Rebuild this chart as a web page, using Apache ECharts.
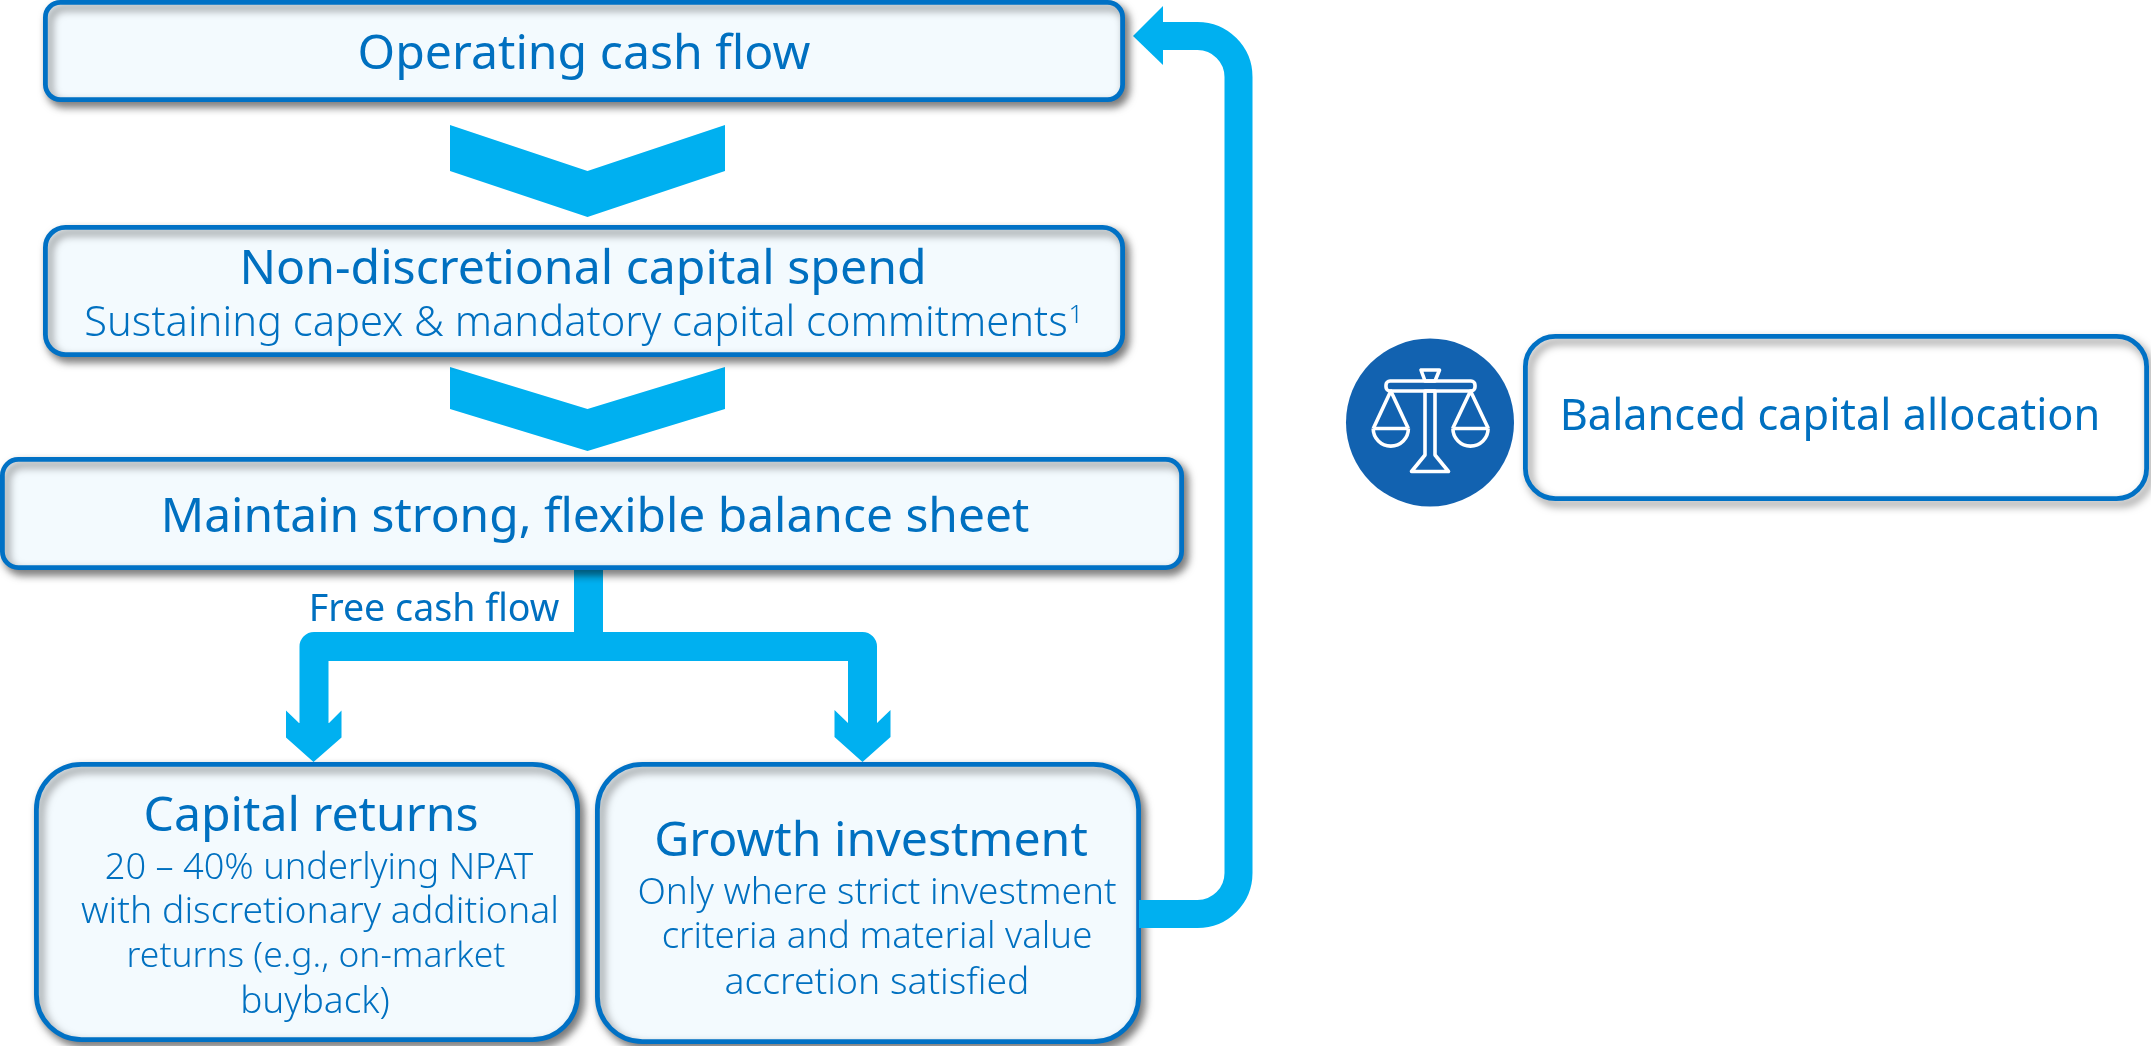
<!DOCTYPE html>
<html>
<head>
<meta charset="utf-8">
<title>Balanced capital allocation</title>
<style>
    html, body { margin: 0; padding: 0; background: #fff; }
    #main { width: 2151px; height: 1046px; }
</style>
<script src="https://cdn.jsdelivr.net/npm/echarts@6/dist/echarts.min.js"></script>
</head>
<body>
<div id="main"></div>
<script>
// texts of the diagram
var boxTitles = ['Operating cash flow', 'Non-discretional capital spend', 'Maintain strong, flexible balance sheet',
    'Capital returns', 'Growth investment', 'Balanced capital allocation'];
var spendNotes = ['Sustaining capex & mandatory capital commitments'];
var returnNotes = ['20 – 40% underlying NPAT', 'with discretionary additional', 'returns (e.g., on-market', 'buyback)'];
var growthNotes = ['Only where strict investment', 'criteria and material value', 'accretion satisfied'];
var flowLabel = 'Free cash flow';
var footnoteMark = '1';

var TEXT = '#0070c0', EDGE = '#0071c5', FILL = '#f3fafe', ARROW = '#00b0f0', ROUND = '#1262b0';
var FONT = '"Noto Sans", sans-serif';

// diagram layout: pixels of the 2151x1046 picture, x0 y0 x1 y1 radius fill
var backBoxes = [
    [34, 762, 580, 1042, 45, FILL],
    [595, 762, 1141, 1044, 45, FILL]
];
var frontBoxes = [
    [43, 0, 1125, 102, 15, FILL],
    [43, 225, 1125, 357, 20, FILL],
    [0, 457, 1184, 570, 16, FILL],
    [1523, 334, 2149, 501, 30, 'none']
];
var chevrons = [
    [450, 125, 587.5, 171, 725, 217],
    [450, 367, 587.5, 409, 725, 451]
];
// x, y, font size, weight, text
var labels = [
    [584, 55, 48.2, 400, boxTitles[0]],
    [583, 270, 48.2, 400, boxTitles[1]],
    [595, 518, 47.9, 400, boxTitles[2]],
    [311, 817, 48.2, 400, boxTitles[3]],
    [871, 842, 48.2, 400, boxTitles[4]],
    [1830, 418, 43.3, 400, boxTitles[5]],
    [434, 610, 37.6, 400, flowLabel],
    [576, 324, 41.7, 300, spendNotes[0]],
    [1076, 316, 26, 300, footnoteMark],
    [319, 869, 36.2, 300, returnNotes[0]],
    [320, 912, 37.4, 300, returnNotes[1]],
    [316, 957, 35.4, 300, returnNotes[2]],
    [315, 1002, 37, 300, returnNotes[3]],
    [877, 893, 37, 300, growthNotes[0]],
    [877, 938, 36.6, 300, growthNotes[1]],
    [877, 983, 37.3, 300, growthNotes[2]]
];

echarts.graphic.registerShape('loopLine', echarts.graphic.extendShape({
    shape: { points: [], radius: 0 },
    buildPath: function (ctx, shape) {
        var p = shape.points;
        ctx.moveTo(p[0][0], p[0][1]);
        for (var i = 1; i < p.length - 1; i++) {
            ctx.arcTo(p[i][0], p[i][1], p[i + 1][0], p[i + 1][1], shape.radius);
        }
        ctx.lineTo(p[p.length - 1][0], p[p.length - 1][1]);
    }
}));

function mapPoints(api, points) {
    return points.map(function (p) { return api.coord(p); });
}

function boxSeries(list) {
    return {
        type: 'custom',
        clip: false,
        silent: true,
        data: list.map(function (b) { return [b[0], b[1]]; }),
        renderItem: function (params, api) {
            var b = list[params.dataIndex];
            var a = api.coord([b[0], b[1]]);
            var c = api.coord([b[2], b[3]]);
            var inset = 2.4;
            return {
                type: 'rect',
                shape: { x: a[0] + inset, y: a[1] + inset, width: c[0] - a[0] - inset * 2, height: c[1] - a[1] - inset * 2, r: b[4] },
                style: {
                    fill: b[5], stroke: EDGE, lineWidth: 4.8,
                    shadowBlur: 9, shadowOffsetX: 4, shadowOffsetY: 5, shadowColor: 'rgba(0,0,0,0.5)'
                }
            };
        }
    };
}

function renderFlow(params, api) {
    var stroke = { fill: 'none', stroke: ARROW, lineWidth: 29, lineJoin: 'round' };
    var solid = { fill: ARROW };
    var children = [
        // stem below the balance sheet box and the split into two branches
        { type: 'polyline', shape: { points: mapPoints(api, [[588.5, 560], [588.5, 646]]) }, style: stroke },
        { type: 'polyline', shape: { points: mapPoints(api, [[314, 730], [314, 646.5], [862.5, 646.5], [862.5, 730]]) }, style: stroke },
        { type: 'polygon', shape: { points: mapPoints(api, [[286, 710.5], [299, 723], [329, 723], [341.5, 710.5], [341.5, 737.5], [313.5, 762], [286, 737.5]]) }, style: solid },
        { type: 'polygon', shape: { points: mapPoints(api, [[834.5, 710], [848, 723], [877, 723], [890.5, 710], [890.5, 737], [862.5, 762], [834.5, 737]]) }, style: solid },
        // loop back to operating cash flow
        { type: 'loopLine', shape: { points: mapPoints(api, [[1139, 914], [1238.5, 914], [1238.5, 36], [1160, 36]]), radius: 41 }, style: { fill: 'none', stroke: ARROW, lineWidth: 28 } },
        { type: 'polygon', shape: { points: mapPoints(api, [[1133, 36], [1163, 6], [1163, 65]]) }, style: solid }
    ];
    chevrons.forEach(function (c) {
        children.push({
            type: 'polygon',
            shape: { points: mapPoints(api, [[c[0], c[1]], [c[2], c[3]], [c[4], c[1]], [c[4], c[3]], [c[2], c[5]], [c[0], c[3]]]) },
            style: solid
        });
    });
    return { type: 'group', children: children };
}

function renderIcon(params, api) {
    var white = { fill: 'none', stroke: '#fff', lineWidth: 3.6, lineJoin: 'round' };
    var c = api.coord([1430, 422.5]);
    var children = [
        { type: 'circle', shape: { cx: c[0], cy: c[1], r: 84 }, style: { fill: ROUND } },
        { type: 'polygon', shape: { points: mapPoints(api, [[1421, 370], [1439.5, 370], [1435, 381], [1425, 381]]) }, style: white },
        { type: 'rect', shape: { x: api.coord([1386, 0])[0], y: api.coord([0, 381])[1], width: 89, height: 10, r: 4 }, style: white },
        { type: 'polygon', shape: { points: mapPoints(api, [[1425, 391], [1435, 391], [1435, 455], [1448.5, 471.5], [1411.5, 471.5], [1425, 455]]) }, style: white }
    ];
    [[1390.8, 1373.3, 1408.3], [1470.5, 1452.7, 1488.3]].forEach(function (p) {
        var mid = api.coord([p[0], 428.5]);
        children.push({ type: 'polyline', shape: { points: mapPoints(api, [[p[1], 428.5], [p[0], 391], [p[2], 428.5]]) }, style: white });
        children.push({ type: 'polyline', shape: { points: mapPoints(api, [[p[1], 428.5], [p[2], 428.5]]) }, style: white });
        children.push({ type: 'arc', shape: { cx: mid[0], cy: mid[1], r: 17.6, startAngle: 0, endAngle: Math.PI, clockwise: true }, style: white });
    });
    return { type: 'group', children: children };
}

function renderLabel(params, api) {
    var l = labels[params.dataIndex];
    var p = api.coord([l[0], l[1]]);
    return {
        type: 'text',
        style: {
            x: p[0], y: p[1], text: l[4], fill: TEXT, align: 'center', verticalAlign: 'middle',
            font: l[3] + ' ' + l[2] + 'px ' + FONT
        }
    };
}

var myChart = echarts.init(document.getElementById('main'));

var option = {
    animation: false,
    backgroundColor: '#ffffff',
    grid: { left: 0, right: 0, top: 0, bottom: 0 },
    xAxis: { type: 'value', min: 0, max: 2151, show: false },
    yAxis: { type: 'value', min: 0, max: 1046, inverse: true, show: false },
    series: [
        boxSeries(backBoxes),
        { type: 'custom', clip: false, silent: true, data: [[0, 0]], renderItem: renderFlow },
        boxSeries(frontBoxes),
        { type: 'custom', clip: false, silent: true, data: [[1430, 422]], renderItem: renderIcon },
        { type: 'custom', clip: false, silent: true, data: labels.map(function (l) { return [l[0], l[1]]; }), renderItem: renderLabel }
    ]
};

myChart.setOption(option);
</script>
</body>
</html>
